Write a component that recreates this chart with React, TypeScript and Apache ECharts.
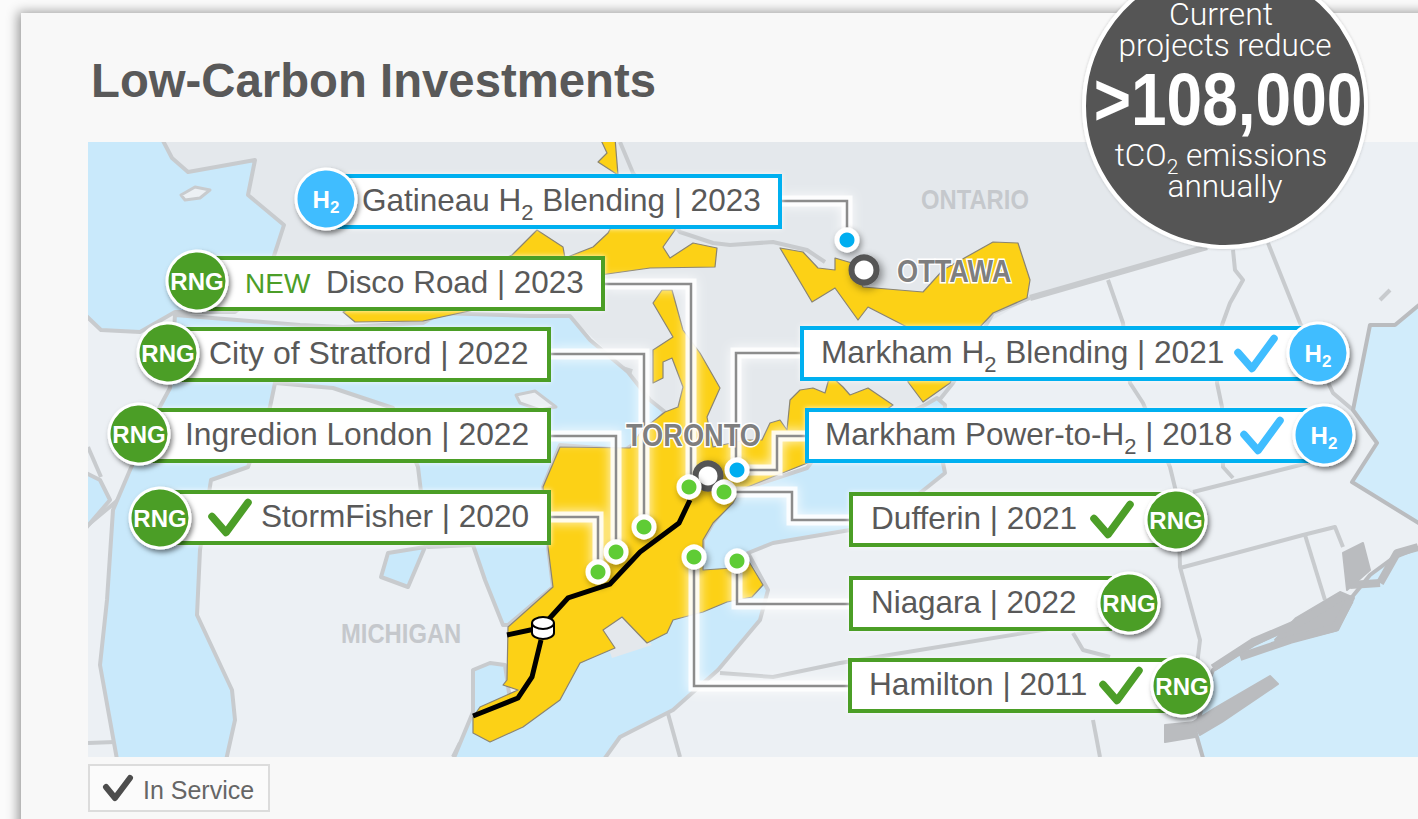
import React, { useEffect, useRef } from "react";
import * as echarts from "echarts";

const FONT = '"Liberation Sans", Arial, sans-serif';
const GREEN = "#4c9e28";
const CYAN = "#00b0f0";
const BADGE_BLUE = "#40bdff";
const TEXT = "#595959";
const LAND_LIGHT = "#ecf0f4";
const LAND_DARK = "#e4e8ec";
const WATER = "#c9e9fb";
const YELLOW = "#fcd116";
const BORDER = "#c8cbce";

type P = number[];

// project table
const projectNames = ["Gatineau H_2 Blending", "Disco Road", "City of Stratford", "Ingredion London", "StormFisher", "Markham H_2 Blending", "Markham Power-to-H_2", "Dufferin", "Niagara", "Hamilton"];
const projectYears = [2023, 2023, 2022, 2022, 2020, 2021, 2018, 2021, 2022, 2011];
const projectFuels = ["H2", "RNG", "RNG", "RNG", "RNG", "H2", "H2", "RNG", "RNG", "RNG"];
const projectInService = [false, false, false, false, true, true, true, true, false, true];
const projectIsNew = [false, true, false, false, false, false, false, false, false, false];

// label placement on the map
const boxLeft = [330, 205, 170, 140, 160, 802, 807, 851, 851, 850];
const boxRight = [780, 603, 549, 549, 549, 1310, 1320, 1170, 1110, 1180];
const boxTop = [176, 258, 329, 410, 492, 328, 410, 494, 578, 660];
const boxHeight = 51;
const textLeft = [362, 326, 209, 185, 261, 821, 825, 871, 871, 869];
const textSize = [31.5, 31.4, 32, 31.8, 31.6, 31.6, 31.5, 31.6, 31.4, 31.6];
const badgeX = [326, 197, 168, 139, 160, 1318, 1324, 1176, 1129, 1182];
const badgeY = [199, 281, 353, 434, 518, 353, 435, 520, 603, 686];
const checkX = [0, 0, 0, 0, 212, 1238, 1244, 1094, 0, 1103];
const checkShape = [[0, 15], [14, 31], [36, 1]];

// sites
const hydrogenSites = [[847, 240], [737, 470]];
const rngSites = [[689, 487], [724, 492], [644, 527], [616, 552], [598, 572], [694, 557], [737, 561]];
const citySites = [[864, 270], [708, 476]];

const leaderLines: P[][] = [
  [[782, 201], [847, 201], [847, 240]],
  [[605, 284], [691, 284], [691, 487]],
  [[551, 354], [644, 354], [644, 527]],
  [[551, 436], [616, 436], [616, 552]],
  [[551, 517], [598, 517], [598, 572]],
  [[802, 353], [736, 353], [736, 470]],
  [[807, 436], [777, 436], [777, 470], [737, 470]],
  [[851, 520], [792, 520], [792, 492], [724, 492]],
  [[851, 604], [737, 604], [737, 561]],
  [[851, 686], [694, 686], [694, 557]],
];

const pipelineSouth = [[473, 716], [518, 698], [532, 677], [541, 640]];
const pipelineWest = [[507, 635], [535, 629]];
const pipelineEast = [[548, 620], [568, 598], [610, 584], [640, 552], [679, 523], [690, 500]];
const storageSite = [543, 628];

// map geography
const canadaLand: P[][] = [[[88, 142], [1240, 142], [1207, 247], [1030, 298], [975, 330], [945, 395], [815, 460], [740, 490], [600, 560], [560, 600], [555, 560], [560, 447], [628, 372], [570, 316], [440, 313], [177, 312], [88, 310]]];

const lakes: P[][] = [
  [[80, 135], [160, 135], [172, 158], [188, 172], [255, 160], [248, 195], [284, 225], [272, 262], [262, 290], [235, 312], [175, 312], [140, 332], [101, 330], [80, 310]],
  [[175, 315], [300, 325], [343, 327], [423, 323], [440, 313], [530, 316], [570, 316], [590, 340], [628, 372], [650, 400], [665, 412], [640, 440], [625, 450], [560, 445], [543, 487], [548, 547], [553, 587], [508, 625], [503, 625], [485, 580], [473, 545], [428, 547], [421, 492], [418, 467], [393, 408], [333, 388], [275, 383], [270, 407], [248, 467], [211, 480], [200, 550], [197, 615], [232, 690], [235, 720], [225, 765], [118, 765], [100, 665], [107, 600], [113, 510], [130, 470], [150, 425], [170, 388]],
  [[80, 470], [100, 480], [110, 500], [80, 535]],
  [[388, 553], [425, 547], [408, 587], [381, 577]],
  [[473, 670], [490, 663], [505, 665], [510, 700], [620, 640], [703, 560], [703, 540], [713, 523], [740, 490], [807, 468], [813, 460], [925, 405], [937, 398], [945, 405], [943, 463], [945, 473], [920, 493], [850, 530], [773, 543], [748, 553], [768, 590], [760, 620], [718, 670], [673, 710], [620, 737], [600, 765], [451, 765], [473, 712]],
];

const islands: P[][] = [
  [[181, 195], [195, 187], [210, 190], [200, 198], [185, 200]],
  [[516, 395], [535, 391], [556, 407], [540, 410], [520, 403]],
];

const landPockets: P[][] = [
  [[600, 625], [622, 610], [652, 645], [612, 658]],
];

const oceans: P[][] = [
  [[1425, 300], [1395, 325], [1370, 325], [1353, 410], [1377, 443], [1352, 482], [1425, 527]],
  [[1425, 545], [1393, 558], [1370, 575], [1352, 597], [1340, 600], [1300, 622], [1253, 645], [1213, 670], [1205, 690], [1200, 715], [1195, 730], [1205, 765], [1425, 765]],
];

const coastMasses: P[][] = [
  [[1343, 553], [1363, 543], [1370, 570], [1347, 590]],
  [[1296, 618], [1340, 592], [1354, 598], [1338, 630], [1290, 642], [1275, 640]],
  [[1193, 722], [1215, 708], [1270, 676], [1278, 684], [1222, 722], [1200, 735]],
  [[1165, 725], [1195, 722], [1195, 737], [1165, 742]],
];

const yellowRegions: P[][] = [
  [[560, 447], [543, 487], [548, 547], [553, 587], [508, 627], [507, 680], [503, 685], [518, 690], [480, 707], [473, 717], [473, 733], [490, 742], [523, 727], [560, 700], [580, 663], [615, 648], [603, 630], [622, 617], [647, 643], [667, 633], [673, 620], [703, 612], [727, 602], [752, 597], [763, 585], [748, 560], [733, 568], [703, 570], [703, 540], [713, 523], [733, 503], [740, 490], [815, 460], [893, 405], [868, 388], [850, 395], [843, 387], [830, 375], [825, 393], [813, 388], [800, 390], [790, 400], [787, 430], [780, 420], [770, 423], [762, 440], [745, 440], [713, 447], [707, 417], [720, 388], [700, 353], [683, 330], [672, 290], [662, 290], [653, 303], [673, 337], [653, 350], [653, 383], [663, 378], [663, 362], [672, 358], [683, 387], [678, 407], [665, 412], [642, 430], [630, 448]],
  [[780, 248], [803, 252], [818, 268], [835, 270], [835, 258], [852, 263], [863, 287], [923, 292], [943, 270], [993, 242], [1018, 243], [1030, 280], [1027, 298], [993, 313], [980, 327], [950, 383], [923, 402], [908, 382], [907, 327], [868, 307], [858, 320], [835, 288], [812, 302]],
  [[343, 312], [355, 322], [423, 321], [520, 300], [600, 275], [650, 268], [715, 267], [717, 248], [693, 243], [670, 258], [663, 247], [675, 230], [675, 220], [615, 220], [608, 233], [593, 247], [565, 258], [563, 247], [537, 230], [512, 255], [480, 270], [380, 295]],
  [[600, 138], [615, 138], [618, 175], [598, 162], [607, 153]],
];

const regionBorders: P[][] = [
  [[1030, 298], [993, 313], [953, 383], [937, 403]],
  [[620, 142], [633, 173], [680, 232], [713, 243], [730, 245], [773, 242], [807, 250], [825, 262]],
  [[1108, 280], [1123, 323], [1130, 383], [1143, 403], [1170, 467], [1178, 500], [1180, 567], [1200, 640], [1197, 665]],
  [[1233, 250], [1235, 270], [1243, 280], [1230, 303], [1222, 325], [1217, 383], [1222, 407], [1223, 467], [1233, 478]],
  [[1268, 243], [1300, 323], [1333, 393], [1353, 410]],
  [[1193, 492], [1300, 465], [1350, 450]],
  [[1180, 568], [1303, 535], [1335, 527], [1343, 547]],
  [[1305, 535], [1325, 600]],
  [[720, 673], [773, 677], [840, 663], [1073, 625]],
  [[1073, 633], [1083, 650], [1110, 657]],
  [[1093, 720], [1100, 757]],
  [[667, 710], [680, 757]],
  [[88, 743], [115, 742]],
  [[460, 743], [453, 757]],
  [[510, 750], [514, 757]],
  [[88, 447], [101, 477]],
  [[88, 525], [130, 490], [150, 485]],
  [[122, 500], [135, 470], [160, 455]],
  [[1380, 300], [1390, 290]],
];

const borderThick: P[][] = [[[1207, 247], [1030, 298]], [[610, 365], [632, 372]]];

const coastThick: P[][] = [
  [[1213, 668], [1253, 642], [1300, 622], [1340, 597]],
  [[1240, 657], [1290, 640], [1335, 628], [1350, 600]],
  [[1380, 583], [1397, 553], [1418, 547]],
  [[1350, 585], [1380, 583]],
];

const mapLabels = ["ONTARIO", "MICHIGAN", "OTTAWA", "TORONTO"];
const mapLabelPos = [[921, 199], [341, 633], [897, 271], [626, 435]];
const mapLabelFill = ["#c5c8cc", "#c5c8cc", "#7f7f7f", "#7f7f7f"];
const mapLabelHalo = [false, false, true, true];
const mapLabelSize = [28, 28, 32, 32];

const calloutLines = ["Current", "projects reduce", ">108,000", "tCO_2 emissions", "annually"];
const titleText = "Low-Carbon Investments";
const legendText = "In Service";

const richOf = (s: string) =>
  s.split("_").map((part, i) => (i === 0 ? `{n|${part}}` : `{s|${part[0]}}` + (part.length > 1 ? `{n|${part.slice(1)}}` : ""))).join("");

function geoSeries(name: string, shapes: P[][], style: any, z: number, closed = true) {
  return {
    type: "custom",
    name,
    coordinateSystem: "cartesian2d",
    clip: true,
    silent: true,
    z,
    data: shapes.map((p) => p[0]),
    encode: { x: 0, y: 1 },
    renderItem: (params: any, api: any) => ({
      type: closed ? "polygon" : "polyline",
      shape: { points: shapes[params.dataIndex].map((q) => api.coord(q)) },
      style,
    }),
  };
}

function pipe(name: string, data: number[][]) {
  return {
    type: "line",
    name,
    data,
    symbol: "none",
    silent: true,
    z: 8,
    clip: false,
    lineStyle: { color: "#000", width: 5, join: "miter" },
  };
}

function labelSeries() {
  return {
    type: "custom",
    name: "projects",
    coordinateSystem: "cartesian2d",
    clip: false,
    silent: true,
    z: 20,
    data: projectNames.map((_, i) => [boxLeft[i], boxTop[i]]),
    encode: { x: 0, y: 1 },
    renderItem: (params: any, api: any) => {
      const i = params.dataIndex;
      const [x0, y0] = api.coord([boxLeft[i], boxTop[i]]);
      const [x1, y1] = api.coord([boxRight[i], boxTop[i] + boxHeight]);
      const isH2 = projectFuels[i] === "H2";
      const col = isH2 ? CYAN : GREEN;
      const cy = (y0 + y1) / 2;
      const [bx, by] = api.coord([badgeX[i], badgeY[i]]);
      const kids: any[] = [
        { type: "rect", shape: { x: x0, y: y0, width: x1 - x0, height: y1 - y0 }, style: { fill: "#fff", stroke: col, lineWidth: 4, shadowBlur: 5, shadowColor: "rgba(255,255,255,0.8)" } },
        {
          type: "text",
          style: {
            x: textLeft[i],
            y: cy - 1.5,
            text: richOf(`${projectNames[i]} | ${projectYears[i]}`),
            align: "left",
            verticalAlign: "middle",
            rich: {
              n: { font: `${textSize[i]}px ${FONT}`, fill: TEXT, lineHeight: 34, verticalAlign: "middle" },
              s: { font: `22px ${FONT}`, fill: TEXT, lineHeight: 22, verticalAlign: "bottom", padding: [0, 0, -6, 0] },
            },
          },
        },
      ];
      if (projectIsNew[i]) {
        kids.push({ type: "text", style: { x: 245, y: cy - 0.5, text: "NEW", font: `28px ${FONT}`, fill: GREEN, align: "left", verticalAlign: "middle" } });
      }
      if (projectInService[i]) {
        const col2 = isH2 ? BADGE_BLUE : GREEN;
        kids.push({
          type: "polyline",
          shape: { points: checkShape.map(([a, b]) => [checkX[i] + a, cy - 16 + b]) },
          style: { fill: "none", stroke: col2, lineWidth: 7.5, lineCap: "round", lineJoin: "round" },
        });
      }
      kids.push({
        type: "circle",
        shape: { cx: bx, cy: by, r: 30 },
        style: { fill: isH2 ? BADGE_BLUE : GREEN, stroke: "#fff", lineWidth: 3, shadowBlur: 5, shadowOffsetX: 2, shadowOffsetY: 3, shadowColor: "rgba(0,0,0,0.5)" },
      });
      kids.push({
        type: "text",
        style: isH2
          ? {
              x: bx, y: by, text: "{n|H}{s|2}", align: "center", verticalAlign: "middle",
              rich: {
                n: { font: `bold 24px ${FONT}`, fill: "#fff", lineHeight: 26, verticalAlign: "middle" },
                s: { font: `bold 17px ${FONT}`, fill: "#fff", lineHeight: 17, verticalAlign: "bottom", padding: [0, 0, -4, 0] },
              },
            }
          : { x: bx, y: by, text: "RNG", font: `bold 24px ${FONT}`, fill: "#fff", align: "center", verticalAlign: "middle" },
      });
      return { type: "group", children: kids };
    },
  };
}

function buildOption() {
  const leaderSeries: any[] = [];
  leaderLines.forEach((l, i) => {
    leaderSeries.push({
      type: "line", name: `halo${i}`, data: l, symbol: "none", silent: true, z: 6, clip: false,
      lineStyle: { color: "rgba(255,255,255,0.85)", width: 11, shadowBlur: 12, shadowColor: "#fff", join: "miter" },
    });
  });
  leaderLines.forEach((l, i) => {
    leaderSeries.push({
      type: "line", name: `leader${i}`, data: l, symbol: "none", silent: true, z: 7, clip: false,
      lineStyle: { color: "#8c8c8c", width: 2.5, join: "miter" },
    });
  });

  return {
    animation: false,
    backgroundColor: "#fbfbfb",
    title: {
      text: titleText,
      left: 91,
      top: 57,
      padding: 0,
      textStyle: { fontFamily: FONT, fontSize: 47.3, fontWeight: "bold", color: TEXT },
      z: 30,
    },
    grid: { left: 88, top: 142, width: 1330, height: 615, containLabel: false },
    xAxis: { type: "value", min: 88, max: 1418, show: false },
    yAxis: { type: "value", min: 142, max: 757, inverse: true, show: false },
    graphic: [
      { type: "rect", z: -10, shape: { x: 21, y: 13, width: 1500, height: 900 }, style: { fill: "#f8f8f8", shadowBlur: 12, shadowOffsetX: -3, shadowOffsetY: -1, shadowColor: "rgba(0,0,0,0.4)" } },
      { type: "rect", z: -9, shape: { x: 88, y: 142, width: 1330, height: 615 }, style: { fill: LAND_LIGHT } },
      { type: "rect", z: 40, shape: { x: 89, y: 765, width: 180, height: 46 }, style: { fill: "#fbfbfb", stroke: "#dcdcdc", lineWidth: 2 } },
      { type: "polyline", z: 41, shape: { points: [[106, 787], [115, 798], [130, 778]] }, style: { fill: "none", stroke: "#4d4d4d", lineWidth: 6, lineCap: "round", lineJoin: "round" } },
      { type: "text", z: 41, style: { x: 143, y: 790, text: legendText, font: `25px ${FONT}`, fill: "#666", align: "left", verticalAlign: "middle" } },
      { type: "circle", z: 50, shape: { cx: 1225, cy: 106, r: 141 }, style: { fill: "#555555", stroke: "#fff", lineWidth: 4, shadowBlur: 3, shadowColor: "rgba(0,0,0,0.2)" } },
      { type: "text", z: 51, style: { x: 1221, y: 14, text: calloutLines[0], font: `300 32px Roboto, ${FONT}`, fill: "#fff", align: "center", verticalAlign: "middle" } },
      { type: "text", z: 51, style: { x: 1225, y: 45, text: calloutLines[1], font: `300 31.5px Roboto, ${FONT}`, fill: "#fff", align: "center", verticalAlign: "middle" } },
      { type: "text", z: 51, x: 1228, y: 99, scaleX: 0.865, style: { x: 0, y: 0, text: calloutLines[2], font: `bold 74px ${FONT}`, fill: "#fff", align: "center", verticalAlign: "middle" } },
      {
        type: "text", z: 51,
        style: {
          x: 1221, y: 155, text: richOf(calloutLines[3]), align: "center", verticalAlign: "middle",
          rich: {
            n: { font: `300 31.5px Roboto, ${FONT}`, fill: "#fff", lineHeight: 34, verticalAlign: "middle" },
            s: { font: `300 21px Roboto, ${FONT}`, fill: "#fff", lineHeight: 21, verticalAlign: "bottom", padding: [0, 0, -5, 0] },
          },
        },
      },
      { type: "text", z: 51, style: { x: 1225, y: 186, text: calloutLines[4], font: `300 31.5px Roboto, ${FONT}`, fill: "#fff", align: "center", verticalAlign: "middle" } },
    ],
    series: [
      geoSeries("canada", canadaLand, { fill: LAND_DARK }, 1),
      geoSeries("borders", regionBorders, { fill: "none", stroke: BORDER, lineWidth: 4, lineJoin: "round" }, 2, false),
      geoSeries("main border", borderThick, { fill: "none", stroke: BORDER, lineWidth: 6, lineJoin: "round" }, 2, false),
      geoSeries("lakes", lakes, { fill: WATER, stroke: BORDER, lineWidth: 4, lineJoin: "round" }, 3),
      geoSeries("ocean", oceans, { fill: "#d1ecfb", stroke: "#babcbf", lineWidth: 4, lineJoin: "round" }, 3),
      geoSeries("islands", islands, { fill: LAND_LIGHT, stroke: BORDER, lineWidth: 3, lineJoin: "round" }, 4),
      geoSeries("land pockets", landPockets, { fill: LAND_DARK }, 4),
      geoSeries("coast masses", coastMasses, { fill: "#babcbf", stroke: "#babcbf", lineWidth: 2, lineJoin: "round" }, 4),
      geoSeries("coast", coastThick, { fill: "none", stroke: "#babcbf", lineWidth: 8, lineJoin: "round" }, 4, false),
      geoSeries("franchise", yellowRegions, { fill: YELLOW, stroke: "#8a8472", lineWidth: 1.2, lineJoin: "round" }, 5),
      ...leaderSeries,
      pipe("pipelineSouth", pipelineSouth),
      pipe("pipelineWest", pipelineWest),
      pipe("pipelineEast", pipelineEast),
      {
        type: "custom", name: "storage", coordinateSystem: "cartesian2d", clip: false, silent: true, z: 9,
        data: [storageSite], encode: { x: 0, y: 1 },
        renderItem: (_p: any, api: any) => {
          const [x, y] = api.coord(storageSite);
          const s = { fill: "#fff", stroke: "#000", lineWidth: 2 };
          return {
            type: "group",
            children: [
              { type: "ellipse", shape: { cx: x, cy: y + 5, rx: 11, ry: 6 }, style: s },
              { type: "rect", shape: { x: x - 11, y: y - 5, width: 22, height: 10 }, style: { fill: "#fff" } },
              { type: "line", shape: { x1: x - 11, y1: y - 5, x2: x - 11, y2: y + 5 }, style: { stroke: "#000", lineWidth: 2 } },
              { type: "line", shape: { x1: x + 11, y1: y - 5, x2: x + 11, y2: y + 5 }, style: { stroke: "#000", lineWidth: 2 } },
              { type: "ellipse", shape: { cx: x, cy: y - 5, rx: 11, ry: 6 }, style: s },
            ],
          };
        },
      },
      {
        type: "scatter", name: "cities", data: citySites, symbolSize: 25, silent: true, z: 10, clip: false,
        itemStyle: { color: "#fff", borderColor: "#555", borderWidth: 6, opacity: 1, shadowBlur: 8, shadowOffsetX: 3, shadowOffsetY: 3, shadowColor: "rgba(0,0,0,0.45)" },
      },
      {
        type: "custom", name: "map labels", coordinateSystem: "cartesian2d", clip: false, silent: true, z: 11,
        data: mapLabelPos, encode: { x: 0, y: 1 },
        renderItem: (p: any, api: any) => {
          const i = p.dataIndex;
          const [x, y] = api.coord(mapLabelPos[i]);
          return {
            type: "text",
            x,
            y,
            scaleX: 0.85,
            style: {
              x: 0, y: 0, text: mapLabels[i], font: `bold ${mapLabelSize[i]}px ${FONT}`, fill: mapLabelFill[i], align: "left", verticalAlign: "middle",
              ...(mapLabelHalo[i] ? { stroke: "#fff", lineWidth: 3 } : {}),
            },
          };
        },
      },
      {
        type: "scatter", name: "RNG sites", data: rngSites, symbolSize: 20, silent: true, z: 12, clip: false,
        itemStyle: { color: "#5fcc35", borderColor: "#fff", borderWidth: 5, opacity: 1, shadowBlur: 6, shadowOffsetX: 2, shadowOffsetY: 3, shadowColor: "rgba(0,0,0,0.4)" },
      },
      {
        type: "scatter", name: "Hydrogen sites", data: hydrogenSites, symbolSize: 20, silent: true, z: 12, clip: false,
        itemStyle: { color: "#00aef0", borderColor: "#fff", borderWidth: 5, opacity: 1, shadowBlur: 6, shadowOffsetX: 2, shadowOffsetY: 3, shadowColor: "rgba(0,0,0,0.4)" },
      },
      labelSeries(),
    ],
  };
}

export default function App() {
  const ref = useRef<HTMLDivElement>(null);
  useEffect(() => {
    const chart = echarts.init(ref.current!, undefined, { renderer: "svg" });
    chart.setOption(buildOption() as any);
    return () => chart.dispose();
  }, []);
  return <div ref={ref} style={{ position: "fixed", left: 0, top: 0, width: 1418, height: 819 }} />;
}
